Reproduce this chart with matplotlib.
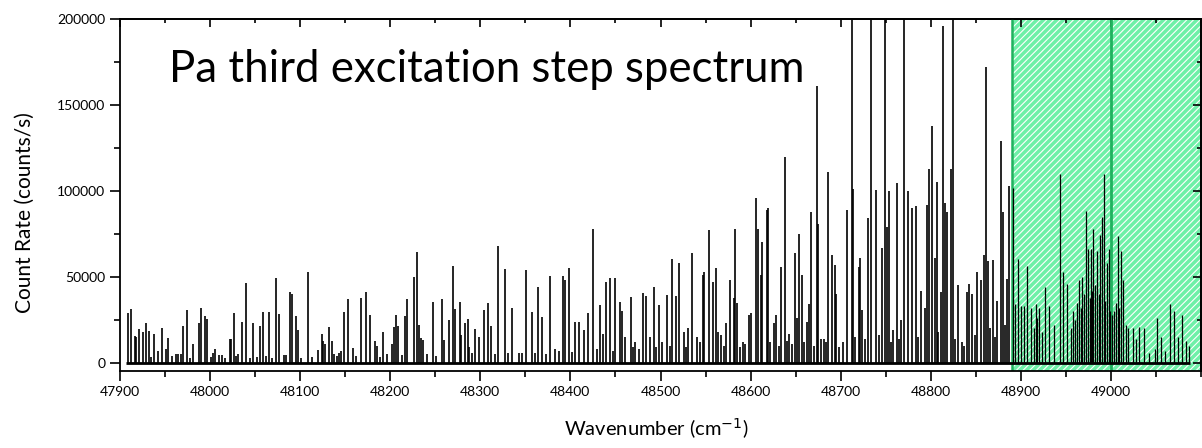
"""Pa third excitation step spectrum with the scanned region shaded."""

import matplotlib

matplotlib.use("Agg")
import matplotlib.pyplot as plt
from matplotlib.ticker import MultipleLocator

plt.rcParams["font.family"] = ["Lato", "DejaVu Sans"]
plt.rcParams["hatch.linewidth"] = 0.8

# peak positions (cm-1) and heights (counts/s)
low_wavenumber = [
    47909.6, 47912, 47917, 47918.5, 47921, 47925.5, 47929.6, 47932, 47938.5,
    47943, 47947, 47951, 47954, 47962, 47965, 47968, 47970.7, 47975, 47981,
    47988, 47990.7, 47995, 47997, 48003, 48006, 48013, 48022, 48024, 48026.5,
    48031, 48035.4, 48040, 48044, 48048, 48056, 48059.5, 48066, 48073,
    48076.6, 48082, 48089, 48091.6, 48096, 48097.5, 48108.7,
    48120, 48124.5, 48126, 48128, 48132, 48136, 48141, 48143, 48145, 48149,
    48153.8, 48159, 48168, 48172.7, 48177.8, 48183, 48185, 48192.6, 48202,
    48204, 48206, 48209, 48216, 48219, 48226.6, 48230, 48231.5, 48234,
    48236, 48247, 48257, 48260, 48265, 48270, 48272, 48277, 48279, 48283,
    48286, 48288, 48294, 48299, 48304, 48308.8, 48312, 48320, 48327,
]
low_counts = [
    28900, 31400, 15700, 15300, 19600, 18000, 23400, 18600, 17000,
    7000, 20000, 8000, 14600, 5000, 5000, 5000, 21500, 30800, 11000,
    23000, 31900, 27500, 25500, 6000, 8000, 4500, 13900, 13700, 28900,
    5000, 24000, 46300, 3000, 23400, 21500, 29800, 29500, 49400,
    28700, 4800, 41100, 40100, 27500, 19200, 53100,
    7200, 17000, 13000, 11000, 21000, 12500, 4000, 5500, 7000, 29500,
    37400, 8500, 37500, 41300, 27900, 13000, 9600, 17800, 10800,
    21000, 28100, 21500, 27100, 37400, 49800, 64700, 22000, 14500,
    13500, 35300, 36900, 13500, 25100, 56400, 31200, 35500, 16000, 23000,
    25500, 9000, 19600, 15300, 30800, 34600, 21500, 68000, 54600,
]

mid_wavenumber = [
    48335.4, 48343, 48350.6, 48357, 48364, 48369, 48377, 48383, 48392,
    48394, 48398.7, 48405, 48409.5, 48415, 48420, 48424.6, 48433, 48436,
    48440, 48443.8, 48449.4, 48455, 48457, 48461, 48466.8, 48472, 48480.8,
    48484, 48488, 48492.7, 48498, 48502, 48506.7, 48513, 48517, 48521,
    48526, 48530, 48534.5, 48540, 48547, 48548.5, 48553.7,
    48558, 48562, 48564, 48567, 48573, 48577, 48581, 48582.5, 48585,
    48591.5, 48598, 48600, 48605.5, 48608, 48611, 48613, 48617.7, 48619.5,
    48626, 48628, 48634, 48637.6, 48643, 48649, 48651, 48654, 48656.5,
    48662, 48664.5, 48667, 48673, 48675, 48681, 48685.4, 48690, 48693,
    48695, 48706.5, 48712, 48713, 48720, 48721, 48724, 48730.5, 48734,
    48738.7, 48746, 48749, 48751, 48753.5, 48758, 48762.4, 48767, 48770.5,
    48774, 48778.6, 48783, 48788.6, 48793, 48795.6, 48798, 48801, 48804,
    48806.4, 48811, 48813.8, 48815.5, 48817.7, 48822, 48824.5, 48830,
    48840, 48842.5, 48846, 48851.5, 48856, 48858.5, 48860.8, 48863.6,
    48868.4, 48873, 48877.8, 48879.6, 48884, 48887,
]
mid_counts = [
    31800, 6000, 54000, 29400, 44000, 26800, 50600, 8000, 50600,
    48000, 55000, 24000, 24000, 19000, 29000, 78000, 33700, 17000,
    47000, 49200, 49200, 35600, 30000, 15000, 38500, 12000, 40400,
    39000, 15000, 44300, 33700, 12000, 39600, 60300, 38600, 58000,
    18000, 20000, 64100, 15000, 51000, 53000, 77000,
    47000, 55000, 18000, 16000, 23000, 48000, 38000, 77600, 35000,
    12000, 28000, 29000, 95900, 78000, 51000, 70000, 89100, 90000,
    23000, 28000, 56000, 120000, 17000, 64000, 26000, 75000, 51000,
    24000, 34000, 88000, 161000, 81000, 14000, 111000, 63000, 57000,
    40000, 89000, 250000, 101000, 56000, 61000, 31000, 84300, 250000,
    100700, 67000, 250000, 79000, 100000, 19000, 104600, 25000, 250000,
    100000, 90000, 91000, 42000, 32000, 92000, 113000, 137600, 61000,
    105000, 41000, 195800, 93000, 88000, 113000, 250000, 45000,
    41000, 46000, 40000, 53000, 48000, 63000, 172000, 59000,
    60000, 36000, 128800, 88000, 49000, 102700,
]

high_wavenumber = [
    48891.5, 48893, 48897, 48900, 48903, 48906.6, 48911, 48914, 48916,
    48918, 48920, 48923, 48926.7, 48931, 48936, 48943, 48947, 48951,
    48955, 48958, 48960, 48962, 48964, 48966, 48968, 48970, 48971.8,
    48974, 48976, 48977, 48979, 48980, 48982, 48984, 48986, 48987,
    48989.6, 48991.8, 48993, 48995, 48997, 48999, 49001, 49003, 49005,
    49007.3, 49009, 49011, 49013, 49016, 49019, 49024, 49028, 49031,
    49036.5, 49042, 49048, 49051, 49055, 49060, 49065.4, 49070, 49074,
    49078, 49083, 49086,
]
high_counts = [
    101500, 34000, 60200, 33000, 33000, 56400, 32000, 20000, 34000,
    26000, 32000, 18000, 44000, 33000, 22000, 110000, 53000, 46000,
    20000, 30000, 25000, 35000, 48000, 32000, 50000, 40000, 88500,
    66000, 38000, 66000, 42000, 77700, 45000, 65000, 40000, 74300,
    85000, 110000, 36000, 58000, 66000, 30000, 28000, 30000, 35000,
    74000, 32000, 65000, 48000, 22000, 20000, 20000, 14000, 21000,
    20000, 6000, 8000, 26000, 15000, 7000, 34000, 30000, 15000,
    28000, 13000, 10000,
]

# small clutter lines along the baseline
minor_wavenumber = [
    47935, 47958, 47978, 48001, 48010, 48017, 48029, 48052, 48062, 48069,
    48085, 48101, 48113, 48138, 48162, 48189, 48196, 48213, 48241, 48251,
    48291, 48316, 48331, 48346, 48361, 48373, 48387, 48402, 48429, 48447,
    48469, 48476, 48495, 48510, 48528, 48544, 48570, 48588, 48594, 48621,
    48631, 48640, 48646, 48659, 48670, 48678, 48684, 48698, 48702, 48716,
    48727, 48742, 48756, 48765, 48786, 48808, 48827, 48834, 48837, 48849,
    48866, 48871, 48882,
]
minor_counts = [
    3500, 4000, 3000, 3500, 4500, 3000, 4000, 3500, 4000, 3000,
    4500, 3000, 3500, 5000, 4000, 3500, 5000, 4500, 5000, 4000,
    5500, 5000, 6000, 5500, 6000, 5000, 7000, 6500, 8000, 7000,
    9000, 8000, 9000, 10000, 9000, 12000, 10000, 9000, 11000, 12000,
    10000, 13000, 11000, 12000, 10000, 14000, 12000, 9000, 12000, 15000,
    14000, 16000, 12000, 14000, 15000, 18000, 14000, 12000, 10000, 16000,
    20000, 15000, 22000,
]

trace_range = (47907, 49087)
shaded_range = (48890, 49100)
marker_line = 49000

x_ticks = list(range(47900, 49001, 100))
y_ticks = [0, 50000, 100000, 150000, 200000]

fig = plt.figure(figsize=(12.02, 4.48), dpi=100)
ax = fig.add_axes([0.0996, 0.172, 0.8999, 0.7857])

ax.axvspan(*shaded_range, facecolor="#6FF0A8", edgecolor="white",
           hatch="/////", linewidth=0, zorder=0)
ax.axvline(shaded_range[0], color="#20B25E", lw=1.8, zorder=1)
ax.axvline(marker_line, color="#20B25E", lw=2.0, zorder=1)

for wn, cts in [(minor_wavenumber, minor_counts), (low_wavenumber, low_counts),
                (mid_wavenumber, mid_counts)]:
    ax.vlines(wn, 0, cts, color="black", lw=1.2, zorder=2)
# the green-band lines sit closer together, so keep them thinner
ax.vlines(high_wavenumber, 0, high_counts, color="black", lw=0.9, zorder=2)
ax.hlines(0, *trace_range, color="black", lw=2.0, zorder=2)

ax.set_xlim(47900, 49100)
ax.set_ylim(-4700, 200000)
ax.set_xticks(x_ticks)
ax.set_yticks(y_ticks)
ax.xaxis.set_minor_locator(MultipleLocator(50))
ax.yaxis.set_minor_locator(MultipleLocator(25000))
ax.tick_params(which="both", direction="out", top=False, right=False,
               labelsize=10, width=1.2)
ax.tick_params(which="major", length=7)
ax.tick_params(which="minor", length=4)

top = ax.secondary_xaxis("top")
top.set_xticks(x_ticks)
top.xaxis.set_minor_locator(MultipleLocator(50))
top.tick_params(which="both", direction="in", labeltop=False, width=1.2)
top.tick_params(which="major", length=6)
top.tick_params(which="minor", length=3)
top.spines["top"].set_linewidth(1.3)

right = ax.secondary_yaxis("right")
right.set_yticks(y_ticks)
right.yaxis.set_minor_locator(MultipleLocator(25000))
right.tick_params(which="both", direction="in", labelright=False, width=1.2)
right.tick_params(which="major", length=6)
right.tick_params(which="minor", length=3)
right.spines["right"].set_linewidth(1.3)

for spine in ax.spines.values():
    spine.set_linewidth(1.3)

ax.set_xlabel("Wavenumber (cm$^{-1}$)", fontsize=14.5)
ax.set_ylabel("Count Rate (counts/s)", fontsize=15)
ax.xaxis.set_label_coords(0.496, -0.13)
ax.yaxis.set_label_coords(-0.078, 0.45)

ax.text(0.046, 0.82, "Pa third excitation step spectrum", transform=ax.transAxes,
        fontsize=31.5, va="baseline", ha="left")

fig.savefig("out.png", dpi=100)
